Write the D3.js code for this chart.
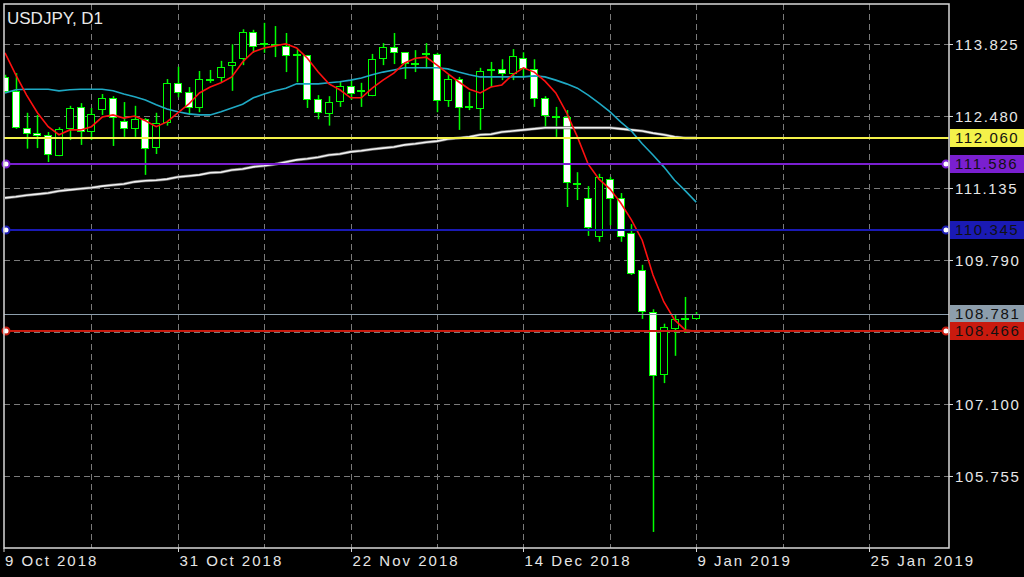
<!DOCTYPE html>
<html><head><meta charset="utf-8">
<script src="https://cdn.jsdelivr.net/npm/d3@7"></script>
<style>html,body{margin:0;padding:0;background:#000;overflow:hidden}svg{display:block}</style>
</head><body>
<script>
// ---------- DATA ----------
const symbolTitle = "USDJPY, D1";
const open = [113.21,112.95,112.26,112.17,112.13,111.75,112.26,112.65,112.20,112.61,
112.82,112.39,112.26,112.42,111.90,112.37,113.10,112.93,112.65,113.15,
113.21,113.43,113.56,114.05,113.84,113.83,113.79,113.63,113.62,112.80,
112.53,112.76,113.04,112.96,112.87,113.56,113.77,113.67,113.47,113.64,
113.64,112.78,113.17,112.67,112.63,113.35,113.35,113.28,113.56,113.36,
112.82,112.48,112.46,111.23,110.95,110.24,111.30,110.95,110.29,109.60,
108.81,107.66,108.52,108.70,108.71];
const high = [113.25,113.28,112.54,112.50,112.18,112.27,112.67,112.72,112.63,112.89,
112.85,112.74,112.67,112.44,112.54,113.17,113.40,113.02,113.32,113.34,
113.51,113.82,114.10,114.09,114.22,114.16,114.03,113.73,113.62,112.87,
112.85,113.13,113.15,113.10,113.64,113.84,114.03,113.67,113.71,113.84,
113.66,113.25,113.21,112.93,113.38,113.49,113.54,113.73,113.67,113.54,
112.85,112.65,112.59,111.43,111.17,111.40,111.34,111.04,110.46,109.70,
108.87,108.60,108.76,109.10,108.82];
const low = [112.93,112.24,111.87,111.88,111.62,111.73,112.03,111.94,112.03,112.50,
111.92,112.09,112.09,111.38,111.77,112.30,112.83,112.50,112.55,113.10,
113.11,112.95,113.43,113.66,113.66,113.58,113.30,113.11,112.63,112.42,
112.30,112.65,112.78,112.65,112.85,113.43,113.45,113.17,113.30,113.37,
112.55,112.65,112.22,112.59,112.22,113.02,113.15,113.15,113.19,112.65,
112.26,112.09,110.78,110.91,110.24,110.13,110.44,110.13,109.51,108.69,
104.71,107.49,108.00,108.43,108.68];
const close = [112.95,112.27,112.16,112.14,111.77,112.24,112.63,112.20,112.52,112.82,
112.46,112.26,112.42,111.88,112.35,113.10,112.93,112.65,113.17,113.17,
113.40,113.49,114.05,113.79,113.83,113.82,113.62,113.62,112.80,112.55,
112.74,113.04,112.91,112.97,113.54,113.77,113.67,113.47,113.47,113.66,
112.78,113.17,112.65,112.66,113.32,113.36,113.28,113.60,113.38,112.82,
112.50,112.47,111.25,111.22,110.41,111.34,110.95,110.24,109.55,108.84,
107.64,108.54,108.69,108.71,108.78];
// moving averages
const maFast = [113.66,113.25,112.87,112.54,112.28,112.13,112.22,112.22,112.28,112.46,
112.50,112.44,112.48,112.39,112.28,112.37,112.54,112.70,112.91,113.02,
113.10,113.21,113.49,113.68,113.75,113.79,113.83,113.75,113.56,113.30,
113.08,112.97,112.82,112.82,113.00,113.15,113.28,113.47,113.56,113.58,
113.43,113.27,113.12,112.98,112.91,113.02,113.06,113.25,113.38,113.30,
113.13,112.91,112.54,112.09,111.58,111.30,111.12,110.86,110.54,110.16,
109.51,109.01,108.67,108.48,108.46];
const maMid = [112.91,112.97,112.98,112.98,112.98,112.95,112.97,112.98,112.98,112.98,
112.95,112.89,112.84,112.78,112.69,112.61,112.56,112.52,112.50,112.50,
112.56,112.63,112.70,112.82,112.89,112.95,113.00,113.08,113.08,113.08,
113.10,113.12,113.15,113.19,113.25,113.30,113.34,113.38,113.38,113.38,
113.38,113.36,113.30,113.25,113.21,113.21,113.21,113.21,113.21,113.23,
113.21,113.15,113.08,113.00,112.87,112.72,112.56,112.37,112.20,111.96,
111.75,111.53,111.28,111.08,110.87];
const maSlow = [110.95,110.97,111.00,111.02,111.04,111.08,111.10,111.12,111.14,111.17,
111.19,111.21,111.25,111.27,111.28,111.30,111.34,111.36,111.38,111.42,
111.43,111.47,111.49,111.53,111.55,111.58,111.62,111.66,111.68,111.71,
111.75,111.77,111.81,111.83,111.86,111.88,111.90,111.94,111.96,111.99,
112.01,112.05,112.07,112.09,112.13,112.14,112.18,112.20,112.22,112.24,
112.26,112.26,112.26,112.26,112.26,112.26,112.26,112.24,112.22,112.20,
112.16,112.13,112.09,112.07,112.07];
const yTicks = [113.825,112.480,111.135,109.790,108.445,107.100,105.755];
const xTickIdx = [0,16,32,48,64,80];
const xTickLabels = ["9 Oct 2018","31 Oct 2018","22 Nov 2018","14 Dec 2018","9 Jan 2019","25 Jan 2019"];
const xGridIdx = [8,16,24,32,40,48,56,64,72,80];
const levelPrices = [112.060,111.586,110.345,108.781,108.466];
const levelLabels = ["112.060","111.586","110.345","108.781","108.466"];
const levelColors = ["#f4f24a","#7a1fd0","#1a1ab4","#8d9eac","#c91a0e"];
const levelWidths = [2,2,2,1,2];
const levelDots = [false,true,true,false,true];

// ---------- LAYOUT ----------
const W = 1024, H = 577;
const L = 4, R = 949, T = 4, B = 548;
const x = d3.scaleLinear().domain([0,80]).range([5,869]);
const y = d3.scaleLinear().domain([104.410,114.572]).range([B,T]);
const LIME = "#00ff00";
const FONT = "'Liberation Sans', Arial, sans-serif";

const svg = d3.select("body").append("svg").attr("width",W).attr("height",H);
svg.append("rect").attr("width",W).attr("height",H).attr("fill","#000");
svg.append("defs").append("clipPath").attr("id","plot")
  .append("rect").attr("x",L).attr("y",T).attr("width",R-L).attr("height",B-T);

// grid
const grid = svg.append("g").attr("stroke","#7a7a7a").attr("stroke-width",1).attr("stroke-dasharray","6,4");
grid.selectAll("line.h").data(yTicks).join("line").attr("class","h")
  .attr("x1",L).attr("x2",R).attr("y1",d=>Math.round(y(d))+0.5).attr("y2",d=>Math.round(y(d))+0.5);
grid.selectAll("line.v").data(xGridIdx).join("line").attr("class","v")
  .attr("x1",d=>Math.round(x(d))+0.5).attr("x2",d=>Math.round(x(d))+0.5).attr("y1",T).attr("y2",B);

const plot = svg.append("g").attr("clip-path","url(#plot)");
const idx = d3.range(open.length);

// candles
const cw = 7;
plot.append("g").selectAll("line").data(idx).join("line")
  .attr("x1",i=>Math.round(x(i))+0.5).attr("x2",i=>Math.round(x(i))+0.5)
  .attr("y1",i=>y(high[i])).attr("y2",i=>y(low[i]))
  .attr("stroke",LIME).attr("stroke-width",1.5);
plot.append("g").selectAll("rect").data(idx).join("rect")
  .attr("x",i=>Math.round(x(i))-3.5)
  .attr("width",cw)
  .attr("y",i=>Math.round(Math.min(y(open[i]),y(close[i])))+0.5)
  .attr("height",i=>Math.max(1,Math.round(Math.abs(y(open[i])-y(close[i])))))
  .attr("fill",i=>close[i]>=open[i]?"#000":"#fff")
  .attr("stroke",LIME).attr("stroke-width",1);

// moving averages
const line = arr => d3.line().x((d,i)=>x(i)).y(d=>y(d))(arr);
plot.append("path").attr("d",line(maSlow)).attr("fill","none").attr("stroke","#6a6a6a").attr("stroke-width",3);
plot.append("path").attr("d",line(maSlow)).attr("fill","none").attr("stroke","#f2f2f2").attr("stroke-width",1.6);
plot.append("path").attr("d",line(maMid)).attr("fill","none").attr("stroke","#1fa9c4").attr("stroke-width",1.6);
plot.append("path").attr("d",line(maFast)).attr("fill","none").attr("stroke","#ff1010").attr("stroke-width",1.6);

// horizontal levels
levelPrices.forEach((p,k)=>{
  const yy = Math.round(y(p)) + (levelWidths[k]===1?0.5:0);
  svg.append("line").attr("x1",L).attr("x2",R).attr("y1",yy).attr("y2",yy)
    .attr("stroke",levelColors[k]).attr("stroke-width",levelWidths[k]);
  if(levelDots[k]){
    [6,946].forEach(cx=>svg.append("circle").attr("cx",cx).attr("cy",yy).attr("r",3.5)
      .attr("fill","#fff").attr("stroke",levelColors[k]).attr("stroke-width",2));
  }
});

// border
svg.append("rect").attr("x",L).attr("y",T).attr("width",R-L).attr("height",B-T)
  .attr("fill","none").attr("stroke","#d8d8d8").attr("stroke-width",1.5);

// y axis ticks & labels
const yAx = svg.append("g");
yTicks.forEach(t=>{
  const yy = Math.round(y(t))+0.5;
  yAx.append("line").attr("x1",R).attr("x2",R+4).attr("y1",yy).attr("y2",yy).attr("stroke","#d8d8d8");
  yAx.append("text").attr("x",955).attr("y",yy).attr("dy","0.36em").text(t.toFixed(3))
    .attr("fill","#e6e6e6").attr("font-family",FONT).attr("font-size",15).attr("letter-spacing",1.6);
});
// colored level labels
levelPrices.forEach((p,k)=>{
  const yy = Math.round(y(p));
  const h = 18;
  svg.append("rect").attr("x",R+1).attr("y",yy-h/2).attr("width",W-R-1).attr("height",h)
    .attr("fill",levelColors[k]);
  svg.append("text").attr("x",955).attr("y",yy).attr("dy","0.36em").text(levelLabels[k])
    .attr("fill","#111").attr("font-family",FONT).attr("font-size",15).attr("letter-spacing",1.6);
});

// x axis ticks & labels
xTickIdx.forEach((ix,k)=>{
  const xx = ix===0 ? L : Math.round(x(ix))+0.5;
  svg.append("line").attr("x1",xx).attr("x2",xx).attr("y1",B).attr("y2",B+4).attr("stroke","#d8d8d8");
  svg.append("text").attr("x",xx+1).attr("y",566).text(xTickLabels[k])
    .attr("fill","#e6e6e6").attr("font-family",FONT).attr("font-size",15).attr("letter-spacing",2);
});

// title
svg.append("text").attr("x",7).attr("y",24).text(symbolTitle)
  .attr("fill","#e8e8e8").attr("font-family",FONT).attr("font-size",17);
</script>
</body></html>
